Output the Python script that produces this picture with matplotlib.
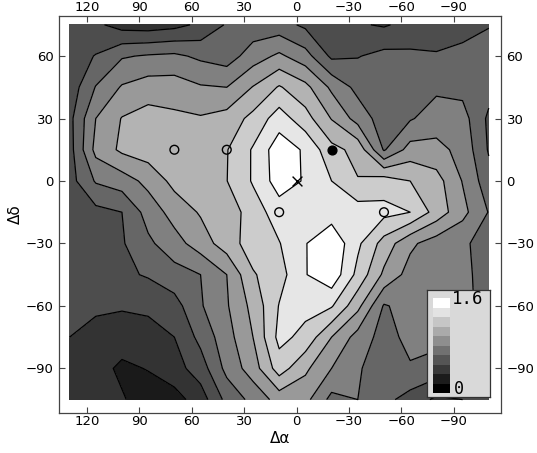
import numpy as np
import matplotlib
matplotlib.use("Agg")
import matplotlib.pyplot as plt

# grid of offsets (degrees), value field in contour-band units
d_alpha = [130, 115, 100, 85, 70, 55, 40, 25, 10, -5, -20, -35, -50, -65, -80, -95, -110]
d_delta = [75, 60, 45, 30, 15, 0, -15, -30, -45, -60, -75, -90, -105]

level = [
    [3.5, 3.2, 2.6, 2.5, 2.7, 3.2, 4.1, 4.4, 4.4, 3.8, 3.3, 3.1, 2.9, 3.3, 3.4, 3.6, 3.95],
    [3.5, 4.05, 4.9, 5.1, 5.2, 4.8, 4.5, 5.5, 6.2, 5.4, 3.8, 3.95, 4.3, 4.2, 4.1, 4.3, 4.4],
    [3.4, 5.05, 6.1, 6.5, 6.5, 6.1, 6.0, 7.05, 8.1, 7.3, 5.8, 4.7, 4.5, 4.5, 4.8, 4.7, 4.4],
    [3.7, 6.0, 7.05, 7.4, 7.2, 7.1, 7.4, 8.3, 9.5, 8.4, 6.95, 5.6, 4.5, 4.9, 5.5, 5.4, 3.8],
    [3.6, 6.3, 7.2, 7.5, 7.5, 7.5, 7.95, 9.1, 10.6, 9.85, 8.3, 7.7, 4.9, 6.4, 6.3, 5.7, 3.9],
    [3.6, 5.1, 5.5, 6.3, 7.3, 7.5, 7.98, 9.1, 10.5, 9.9, 9.0, 8.05, 8.5, 8.0, 7.4, 5.95, 4.4],
    [3.5, 3.7, 4.0, 5.4, 6.4, 7.1, 7.4, 8.5, 9.5, 9.7, 9.5, 9.5, 9.3, 9.0, 7.6, 6.3, 4.95],
    [3.5, 3.6, 3.9, 4.8, 5.6, 6.5, 7.5, 8.5, 8.95, 9.95, 10.8, 9.2, 7.6, 6.2, 5.5, 5.2, 4.5],
    [3.4, 3.5, 3.8, 4.1, 4.6, 5.0, 6.0, 7.9, 8.6, 9.95, 10.7, 8.7, 6.8, 5.6, 5.4, 5.3, 4.5],
    [3.3, 3.2, 3.1, 3.2, 3.6, 4.9, 5.9, 7.3, 9.05, 9.3, 9.1, 7.3, 4.9, 5.4, 5.5, 5.3, 4.6],
    [3.0, 2.6, 2.5, 2.6, 3.0, 4.3, 5.6, 7.0, 9.3, 8.7, 7.0, 5.6, 4.6, 5.3, 5.3, 5.0, 4.5],
    [2.6, 2.4, 1.8, 2.05, 2.6, 3.5, 5.3, 6.5, 8.5, 7.2, 6.0, 5.1, 4.5, 4.9, 4.6, 4.2, 3.8],
    [2.3, 2.2, 2.1, 1.5, 1.6, 2.5, 4.3, 5.3, 6.4, 6.3, 4.7, 5.0, 4.3, 3.6, 2.8, 3.0, 3.2],
]

# marked positions
open_a = [70, 40, 10, -50]
open_d = [15, 15, -15, -15]
filled_a = [-20]
filled_d = [15]
center_a = [0]
center_d = [0]

x_ticks = [120, 90, 60, 30, 0, -30, -60, -90]
y_ticks = [60, 30, 0, -30, -60, -90]
legend_top = "1.6"
legend_bottom = "0"

z = np.array(level)
bands = np.arange(0, 12)
grays = [str(k / 10) for k in range(11)]

fig = plt.figure(figsize=(5.37, 4.53), dpi=100)
ax = fig.add_axes([0.110, 0.088, 0.823, 0.877])

ax.contourf(d_alpha, d_delta, z, levels=bands, colors=grays)
ax.contour(d_alpha, d_delta, z, levels=bands[1:-1], colors="black", linewidths=0.9)

ax.scatter(open_a, open_d, s=40, facecolors="none", edgecolors="black", linewidths=1.0, zorder=5)
ax.scatter(filled_a, filled_d, s=40, c="black", zorder=5)
ax.scatter(center_a, center_d, s=50, marker="x", c="black", linewidths=1.0, zorder=5)

ax.set_xlim(136, -117)
ax.set_ylim(-111.5, 79.3)
ax.set_xticks(x_ticks)
ax.set_yticks(y_ticks)
ax.tick_params(direction="in", length=4, width=0.8, color="#444444", labelsize=9.5, pad=1.5,
               top=True, right=True, labeltop=True, labelright=True)
ax.tick_params(axis="y", pad=4)
for s in ax.spines.values():
    s.set_color("#444444")
    s.set_linewidth(0.9)
ax.set_xlabel("Δα", fontsize=11, labelpad=2)
ax.set_ylabel("Δδ", fontsize=11, labelpad=2)

# shading legend
lax = fig.add_axes([427 / 537, 1 - 397 / 453, 63 / 537, 107 / 453])
lax.set_facecolor("#d9d9d9")
lax.set_xlim(0, 63)
lax.set_ylim(0, 107)
lax.set_xticks([])
lax.set_yticks([])
for s in lax.spines.values():
    s.set_color("#333333")
    s.set_linewidth(0.9)
sw = 95 / 10
for k in range(10):
    lax.add_patch(plt.Rectangle((5.5, 4 + k * sw), 17, sw, facecolor=str(k / 9), edgecolor="none"))
lax.text(25, 98, legend_top, fontsize=12.5, family="DejaVu Sans Mono", va="center", ha="left", clip_on=True)
lax.text(27, 8, legend_bottom, fontsize=12, family="DejaVu Sans Mono", va="center", ha="left", clip_on=True)

fig.savefig("out.png", dpi=100)
